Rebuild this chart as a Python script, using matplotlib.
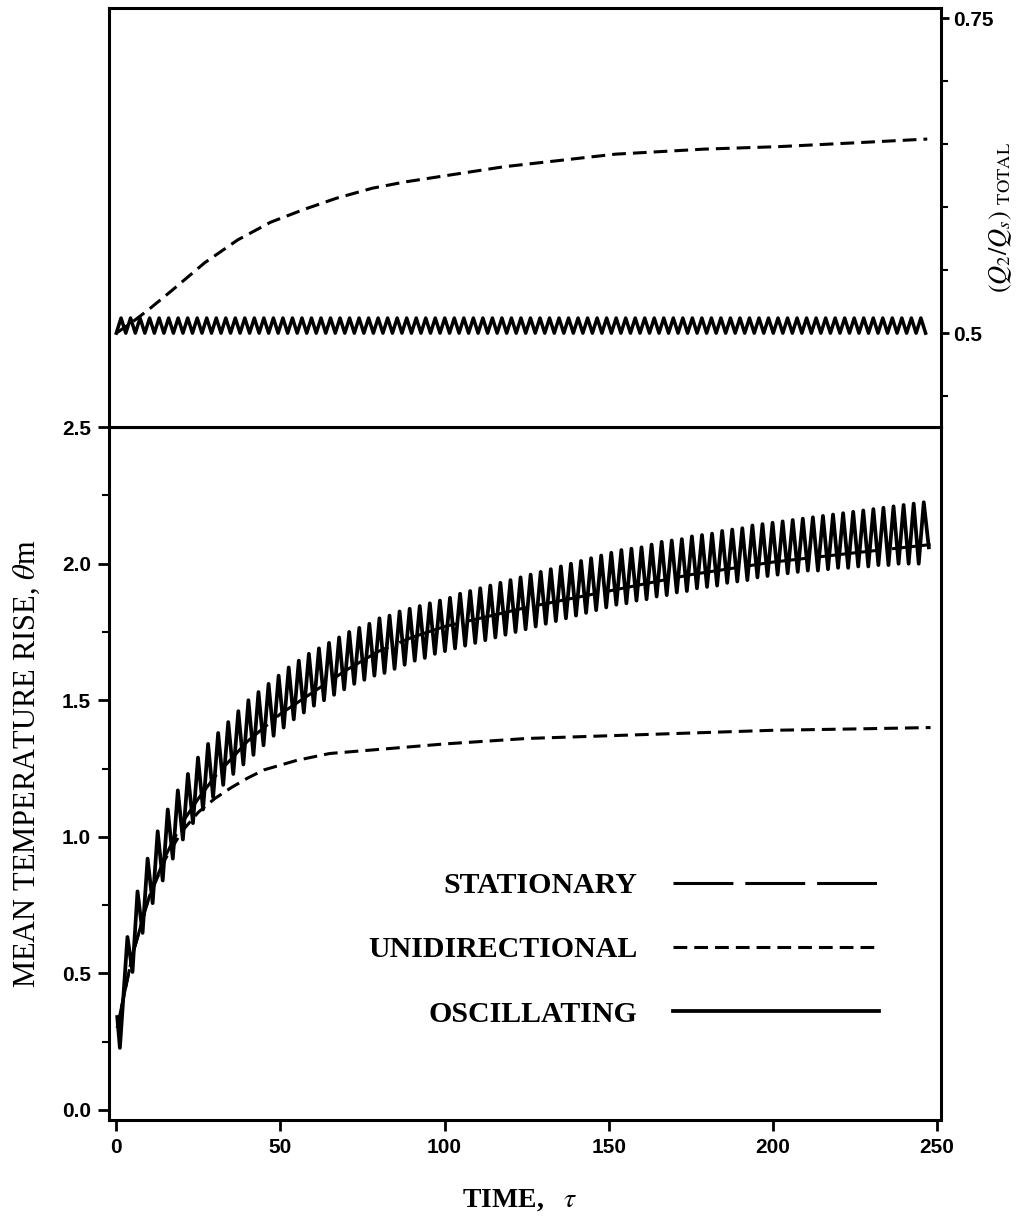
import numpy as np
import matplotlib.pyplot as plt

plt.rcParams['mathtext.fontset'] = 'stix'

# bottom panel: mean temperature rise vs time
stat_t = [0.3, 2, 5, 10, 15, 20, 25, 30, 40, 50, 60, 70, 80, 90, 100,
          125, 150, 175, 200, 225, 248]
stat_theta = [0.30, 0.40, 0.57, 0.78, 0.93, 1.05, 1.14, 1.22, 1.35, 1.45, 1.53,
              1.61, 1.68, 1.73, 1.77, 1.84, 1.90, 1.96, 2.006, 2.04, 2.07]

uni_t = [0.3, 2, 5, 10, 15, 20, 25, 30, 35, 40, 45, 55, 65, 80, 100,
         125, 150, 175, 200, 225, 248]
uni_theta = [0.30, 0.40, 0.57, 0.78, 0.92, 1.02, 1.09, 1.14, 1.18, 1.215, 1.245,
             1.28, 1.305, 1.32, 1.34, 1.36, 1.37, 1.38, 1.39, 1.395, 1.40]

# oscillating case: start, then one peak and one trough per cycle
osc_start_t = [0.3, 1.1]
osc_start_theta = [0.34, 0.227]
osc_first_peak = 3.4
osc_period = 3.07
osc_peaks = [0.633, 0.80, 0.92, 1.02, 1.10, 1.17, 1.23, 1.29, 1.34, 1.38,
             1.42, 1.46, 1.50, 1.53, 1.56, 1.59, 1.62, 1.645, 1.67, 1.69,
             1.71, 1.73, 1.75, 1.765, 1.78, 1.80, 1.81, 1.825, 1.835, 1.845,
             1.855, 1.865, 1.875, 1.89, 1.90, 1.91, 1.92, 1.93, 1.94, 1.95,
             1.96, 1.97, 1.98, 1.99, 2.00, 2.01, 2.02, 2.03, 2.04, 2.05,
             2.055, 2.06, 2.07, 2.08, 2.085, 2.09, 2.10, 2.105, 2.11, 2.12,
             2.125, 2.13, 2.14, 2.145, 2.15, 2.155, 2.16, 2.165, 2.17, 2.175,
             2.18, 2.185, 2.19, 2.195, 2.20, 2.205, 2.21, 2.215, 2.22, 2.225]
osc_troughs = [0.505, 0.648, 0.757, 0.84, 0.92, 0.99, 1.05, 1.10, 1.145, 1.19,
               1.23, 1.265, 1.30, 1.335, 1.37, 1.40, 1.43, 1.455, 1.48, 1.50,
               1.52, 1.54, 1.56, 1.575, 1.59, 1.60, 1.615, 1.63, 1.645, 1.655,
               1.67, 1.68, 1.69, 1.70, 1.71, 1.72, 1.73, 1.74, 1.75, 1.76,
               1.77, 1.78, 1.79, 1.80, 1.81, 1.82, 1.83, 1.84, 1.85, 1.855,
               1.865, 1.87, 1.88, 1.885, 1.895, 1.90, 1.91, 1.915, 1.92, 1.93,
               1.935, 1.94, 1.95, 1.955, 1.96, 1.965, 1.97, 1.975, 1.975, 1.98,
               1.985, 1.985, 1.99, 1.99, 1.995, 1.995, 2.00, 2.00, 2.00, 2.06]

# top panel: (Q2/Qs) total
top_uni_t = [0, 5, 10, 17, 27, 37, 47, 57, 67, 78, 88, 98, 118, 135, 152,
             179, 202, 225, 247]
top_uni_q = [0.500, 0.509, 0.519, 0.534, 0.556, 0.574, 0.588, 0.598, 0.607,
             0.615, 0.620, 0.624, 0.632, 0.637, 0.642, 0.646, 0.648, 0.651, 0.654]
top_osc_period = 2.9
top_osc_cycles = 85
top_osc_peak = 0.512
top_osc_trough = 0.500

x_ticks = [0, 50, 100, 150, 200, 250]
y_ticks = [0.0, 0.5, 1.0, 1.5, 2.0, 2.5]
y_minor = [0.25, 0.75, 1.25, 1.75, 2.25]
q_ticks = [0.5, 0.75]
q_labels = ['0.5', '0.75']
q_minor = [0.45, 0.55, 0.60, 0.65, 0.70]
legend_labels = ['STATIONARY', 'UNIDIRECTIONAL', 'OSCILLATING']

# build the zigzag of the oscillating curve
peak_t = osc_first_peak + osc_period * np.arange(len(osc_peaks))
trough_t = peak_t + osc_period / 2
osc_t = np.concatenate([osc_start_t, np.column_stack([peak_t, trough_t]).ravel()])
osc_theta = np.concatenate([osc_start_theta,
                            np.column_stack([osc_peaks, osc_troughs]).ravel()])

k = np.arange(top_osc_cycles)
top_osc_t = np.concatenate([[0], np.column_stack([top_osc_period * (k + 0.5),
                                                   top_osc_period * (k + 1)]).ravel()])
top_osc_q = np.concatenate([[top_osc_trough],
                            np.tile([top_osc_peak, top_osc_trough], top_osc_cycles)])

fig = plt.figure(figsize=(10.23, 12.24), dpi=100)
ax = fig.add_axes([0.1066, 0.085, 0.8133, 0.566])
ax_top = fig.add_axes([0.1066, 0.651, 0.8133, 0.3425], sharex=ax)

lw = 2.2
ax.plot(osc_t, osc_theta, color='k', lw=2.7, label='OSCILLATING')
ax.plot(stat_t, stat_theta, color='k', lw=lw, dashes=(19.6, 3.9), label='STATIONARY')
ax.plot(uni_t, uni_theta, color='k', lw=lw, dashes=(4.5, 2.3), label='UNIDIRECTIONAL')

ax_top.plot(top_osc_t, top_osc_q, color='k', lw=2.5)
ax_top.plot(top_uni_t, top_uni_q, color='k', lw=lw, dashes=(4.5, 2.3))

tick_font = {'family': 'Liberation Sans', 'weight': 'bold', 'size': 15}

ax.set_xlim(-2.2, 251.2)
ax.set_ylim(-0.037, 2.5)
ax.set_xticks(x_ticks)
ax.set_xticklabels([str(v) for v in x_ticks], fontdict=tick_font)
ax.set_yticks(y_ticks)
ax.set_yticklabels([f'{v:.1f}' for v in y_ticks], fontdict=tick_font)
ax.set_yticks(y_minor, minor=True)
ax.tick_params(axis='both', which='major', direction='out', length=8, width=2, pad=5)
ax.tick_params(axis='y', which='minor', direction='out', length=5, width=1.5)
ax.tick_params(axis='y', right=False)
ax.tick_params(axis='x', top=False)

ax_top.set_ylim(0.4254, 0.758)
ax_top.yaxis.tick_right()
ax_top.set_yticks(q_ticks)
ax_top.set_yticklabels(q_labels, fontdict=tick_font)
ax_top.set_yticks(q_minor, minor=True)
ax_top.tick_params(axis='y', which='major', direction='out', length=6, width=2, pad=3)
ax_top.tick_params(axis='y', which='minor', direction='out', length=5, width=1.5)
ax_top.tick_params(axis='x', which='both', bottom=False, top=False, labelbottom=False)

for a in (ax, ax_top):
    for s in a.spines.values():
        s.set_linewidth(2.2)

ax.set_ylabel(r'MEAN TEMPERATURE RISE, $\theta$m', family='Liberation Serif', size=22)
ax.yaxis.set_label_coords(-0.08, 0.514)
ax.set_xlabel(r'TIME,   $\tau$', family='Liberation Serif', weight='bold', size=20)
ax.xaxis.set_label_coords(0.494, -0.097)
ax_top.set_ylabel(r'$(Q_2/Q_s)$ $_{\mathrm{TOTAL}}$', family='Liberation Serif',
                  weight='bold', size=19, rotation=90)
ax_top.yaxis.set_label_position('right')
ax_top.yaxis.set_label_coords(1.056, 0.5)

h, l = ax.get_legend_handles_labels()
order = [l.index(name) for name in legend_labels]
ax.legend([h[i] for i in order], [l[i] for i in order], loc='lower right',
          bbox_to_anchor=(0.925, 0.133), frameon=False, markerfirst=False,
          handlelength=6.9, handletextpad=1.17, labelspacing=1.25,
          borderaxespad=0, borderpad=0,
          prop={'family': 'Liberation Serif', 'weight': 'bold', 'size': 21.5})

fig.savefig('out.png', dpi=100, facecolor='white')
